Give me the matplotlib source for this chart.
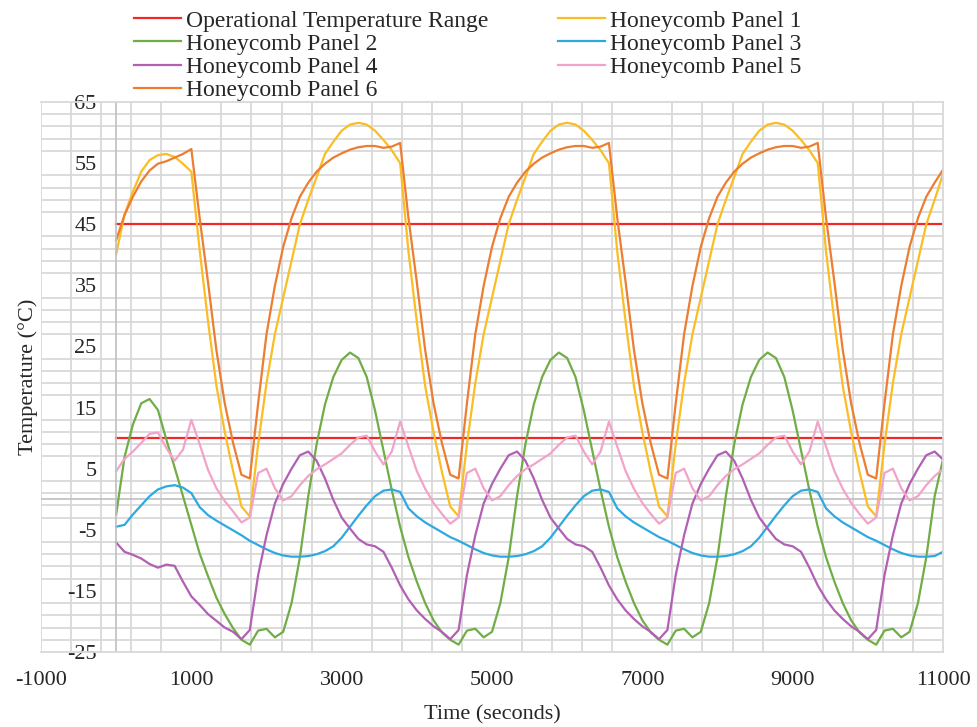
import numpy as np
import matplotlib
matplotlib.use("Agg")
import matplotlib.pyplot as plt
from matplotlib.ticker import FixedLocator

plt.rcParams['font.family'] = ['Liberation Serif', 'DejaVu Serif']
plt.rcParams['axes.unicode_minus'] = False

# sample times (s), 100 points over the run
time_s = np.linspace(0, 11000, 100)

op_low = 10
op_high = 45

panel1 = [
    40.1, 46.6, 50.3, 53.6, 55.5, 56.3, 56.5, 56.0, 54.9, 53.6, 40.7, 29.1, 18.6, 11.0, 4.6, -1.2,
    -2.8, 9.0, 19.0, 27.0, 33.0, 39.0, 45.0, 49.0, 52.7, 56.5, 58.5, 60.3, 61.3, 61.6, 61.3, 60.3,
    58.8, 57.1, 55.0, 40.5, 29.0, 18.5, 11.0, 4.5, -1.2,
    -2.8, 9.0, 19.0, 27.0, 33.0, 39.0, 45.0, 49.0, 52.7, 56.5, 58.5, 60.3, 61.3, 61.6, 61.3, 60.3,
    58.8, 57.1, 55.0, 40.5, 29.0, 18.5, 11.0, 4.5, -1.2,
    -2.8, 9.0, 19.0, 27.0, 33.0, 39.0, 45.0, 49.0, 52.7, 56.5, 58.5, 60.3, 61.3, 61.6, 61.3, 60.3,
    58.8, 57.1, 55.0, 40.5, 29.0, 18.5, 11.0, 4.5, -1.2,
    -2.8, 9.0, 19.0, 27.0, 33.0, 39.0, 45.0, 49.0, 53.2,
]
panel2 = [
    -2.5, 6.9, 12.2, 15.7, 16.4, 14.6, 9.8, 5.2, 0.5, -4.2, -8.9, -12.6, -16.1, -18.8, -21.1, -23.0,
    -23.8, -21.5, -21.2, -22.6, -21.7, -17.0, -9.5, 0.5, 9.0, 15.5, 20.0, 22.8, 24.0, 23.1, 20.0,
    14.5, 8.0, 1.5, -4.5, -9.5, -13.5, -17.0, -19.8, -21.8, -23.0,
    -23.8, -21.5, -21.2, -22.6, -21.7, -17.0, -9.5, 0.5, 9.0, 15.5, 20.0, 22.8, 24.0, 23.1, 20.0,
    14.5, 8.0, 1.5, -4.5, -9.5, -13.5, -17.0, -19.8, -21.8, -23.0,
    -23.8, -21.5, -21.2, -22.6, -21.7, -17.0, -9.5, 0.5, 9.0, 15.5, 20.0, 22.8, 24.0, 23.1, 20.0,
    14.5, 8.0, 1.5, -4.5, -9.5, -13.5, -17.0, -19.8, -21.8, -23.0,
    -23.8, -21.5, -21.2, -22.6, -21.7, -17.0, -9.5, 0.5, 6.5,
]
panel3 = [
    -4.5, -4.2, -2.5, -1.0, 0.5, 1.6, 2.1, 2.3, 1.9, 1.0, -1.3, -2.6, -3.5, -4.3, -5.1, -5.9,
    -6.8, -7.5, -8.2, -8.8, -9.2, -9.4, -9.4, -9.3, -9.0, -8.5, -7.7, -6.3, -4.5, -2.7, -1.0,
    0.5, 1.4, 1.6, 1.2, -1.5, -2.8, -3.8, -4.6, -5.4, -6.2,
    -6.8, -7.5, -8.2, -8.8, -9.2, -9.4, -9.4, -9.3, -9.0, -8.5, -7.7, -6.3, -4.5, -2.7, -1.0,
    0.5, 1.4, 1.6, 1.2, -1.5, -2.8, -3.8, -4.6, -5.4, -6.2,
    -6.8, -7.5, -8.2, -8.8, -9.2, -9.4, -9.4, -9.3, -9.0, -8.5, -7.7, -6.3, -4.5, -2.7, -1.0,
    0.5, 1.4, 1.6, 1.2, -1.5, -2.8, -3.8, -4.6, -5.4, -6.2,
    -6.8, -7.5, -8.2, -8.8, -9.2, -9.4, -9.4, -9.3, -8.6,
]
panel4 = [
    -7.1, -8.6, -9.1, -9.7, -10.6, -11.2, -10.7, -10.9, -13.5, -15.9, -17.3, -18.8, -19.9, -21.0, -21.7, -22.9,
    -21.4, -12.4, -5.9, -0.7, 2.5, 5.0, 7.2, 7.8, 6.3, 3.4, -0.1, -3.0, -4.8, -6.5, -7.4,
    -7.7, -8.6, -11.2, -14.1, -16.4, -18.2, -19.6, -20.8, -21.7, -22.9,
    -21.4, -12.4, -5.9, -0.7, 2.5, 5.0, 7.2, 7.8, 6.3, 3.4, -0.1, -3.0, -4.8, -6.5, -7.4,
    -7.7, -8.6, -11.2, -14.1, -16.4, -18.2, -19.6, -20.8, -21.7, -22.9,
    -21.4, -12.4, -5.9, -0.7, 2.5, 5.0, 7.2, 7.8, 6.3, 3.4, -0.1, -3.0, -4.8, -6.5, -7.4,
    -7.7, -8.6, -11.2, -14.1, -16.4, -18.2, -19.6, -20.8, -21.7, -22.9,
    -21.4, -12.4, -5.9, -0.7, 2.5, 5.0, 7.2, 7.8, 6.5,
]
panel5 = [
    4.6, 6.6, 7.8, 9.2, 10.7, 10.9, 8.4, 6.3, 8.1, 13.0, 9.0, 4.8, 1.8, -0.3, -2.0, -3.8,
    -3.0, 4.3, 5.0, 1.8, -0.2, 0.5, 2.3, 3.8, 4.9, 5.7, 6.6, 7.5, 8.9, 10.1, 10.4,
    7.8, 5.7, 7.8, 12.7, 8.6, 4.6, 1.7, -0.6, -2.4, -4.0,
    -3.0, 4.3, 5.0, 1.8, -0.2, 0.5, 2.3, 3.8, 4.9, 5.7, 6.6, 7.5, 8.9, 10.1, 10.4,
    7.8, 5.7, 7.8, 12.7, 8.6, 4.6, 1.7, -0.6, -2.4, -4.0,
    -3.0, 4.3, 5.0, 1.8, -0.2, 0.5, 2.3, 3.8, 4.9, 5.7, 6.6, 7.5, 8.9, 10.1, 10.4,
    7.8, 5.7, 7.8, 12.7, 8.6, 4.6, 1.7, -0.6, -2.4, -4.0,
    -3.0, 4.3, 5.0, 1.8, -0.2, 0.5, 2.3, 3.8, 4.9,
]
panel6 = [
    42.4, 46.5, 49.5, 52.0, 53.8, 54.9, 55.3, 55.9, 56.5, 57.3, 46.0, 35.5, 24.4, 15.7, 9.2, 4.0,
    3.4, 15.7, 27.0, 34.9, 41.3, 46.0, 49.5, 51.8, 53.6, 54.9, 55.9, 56.6, 57.2, 57.6, 57.8,
    57.8, 57.5, 57.7, 58.3, 46.0, 35.5, 24.4, 15.7, 9.2, 4.0,
    3.4, 15.7, 27.0, 34.9, 41.3, 46.0, 49.5, 51.8, 53.6, 54.9, 55.9, 56.6, 57.2, 57.6, 57.8,
    57.8, 57.5, 57.7, 58.3, 46.0, 35.5, 24.4, 15.7, 9.2, 4.0,
    3.4, 15.7, 27.0, 34.9, 41.3, 46.0, 49.5, 51.8, 53.6, 54.9, 55.9, 56.6, 57.2, 57.6, 57.8,
    57.8, 57.5, 57.7, 58.3, 46.0, 35.5, 24.4, 15.7, 9.2, 4.0,
    3.4, 15.7, 27.0, 34.9, 41.3, 46.0, 49.5, 51.8, 53.9,
]

x_ticks = [-1000, 1000, 3000, 5000, 7000, 9000, 11000]
y_ticks = [-25, -15, -5, 5, 15, 25, 35, 45, 55, 65]

series = [
    ("Honeycomb Panel 1", panel1, "#FBBD24"),
    ("Honeycomb Panel 2", panel2, "#70AD47"),
    ("Honeycomb Panel 3", panel3, "#2DA9E1"),
    ("Honeycomb Panel 4", panel4, "#B160B4"),
    ("Honeycomb Panel 5", panel5, "#F2A3CA"),
    ("Honeycomb Panel 6", panel6, "#ED7D31"),
]

fig = plt.figure(figsize=(9.77, 7.27), dpi=100)
ax = fig.add_axes([41 / 977, 1 - 652 / 727, 902 / 977, 550 / 727])

ax.set_xlim(-1000, 11000)
ax.set_ylim(-25, 65)

# gridlines: every 400 s and every 2 degrees
ax.xaxis.set_major_locator(FixedLocator(x_ticks))
ax.xaxis.set_minor_locator(FixedLocator(np.arange(-1000, 11001, 400)))
ax.yaxis.set_major_locator(FixedLocator(y_ticks))
ax.yaxis.set_minor_locator(FixedLocator(np.arange(-25, 66, 2)))
ax.grid(which='minor', color='#D9D9D9', linewidth=1.3)
ax.grid(which='major', visible=False)
ax.set_axisbelow(True)

for s in ['top', 'right', 'bottom']:
    ax.spines[s].set_color('#D9D9D9')
    ax.spines[s].set_linewidth(1.3)
ax.spines['left'].set_position(('data', 0))
ax.spines['left'].set_color('#BFBFBF')
ax.spines['left'].set_linewidth(1.2)
ax.axvline(-1000, color='#D9D9D9', linewidth=1.3, zorder=0.5)
ax.axhline(0, color='#BFBFBF', linewidth=1.2, zorder=0.6)

ax.tick_params(which='both', length=0)
ax.tick_params(axis='y', pad=14, labelsize=16, colors='#262626')
ax.tick_params(axis='x', pad=14, labelsize=16, colors='#262626')

handles = []
h, = ax.plot([0, 11000], [op_high, op_high], color='#F02828', linewidth=1.6,
             label="Operational Temperature Range")
ax.plot([0, 11000], [op_low, op_low], color='#F02828', linewidth=1.6)
handles.append(h)
for name, vals, col in series:
    h, = ax.plot(time_s, vals, color=col, linewidth=1.6, label=name)
    handles.append(h)

ax.set_xlabel("Time (seconds)", fontsize=16, color='#262626', labelpad=11)
ax.set_ylabel("Temperature (°C)", fontsize=16, color='#262626')
ax.yaxis.set_label_coords(-3 / 902, 0.5)

# legend is read across rows, so feed it column by column
order = [0, 2, 4, 6, 1, 3, 5]
fig.legend([handles[i] for i in order], [handles[i].get_label() for i in order],
           loc='upper left', bbox_to_anchor=(134 / 977, 1 - 10 / 727), ncol=2,
           frameon=False, fontsize=17, handlelength=2.0, handletextpad=0.2,
           columnspacing=2.95, labelspacing=0.07, borderpad=0, borderaxespad=0,
           labelcolor='#262626')

fig.savefig("out.png", dpi=100)
